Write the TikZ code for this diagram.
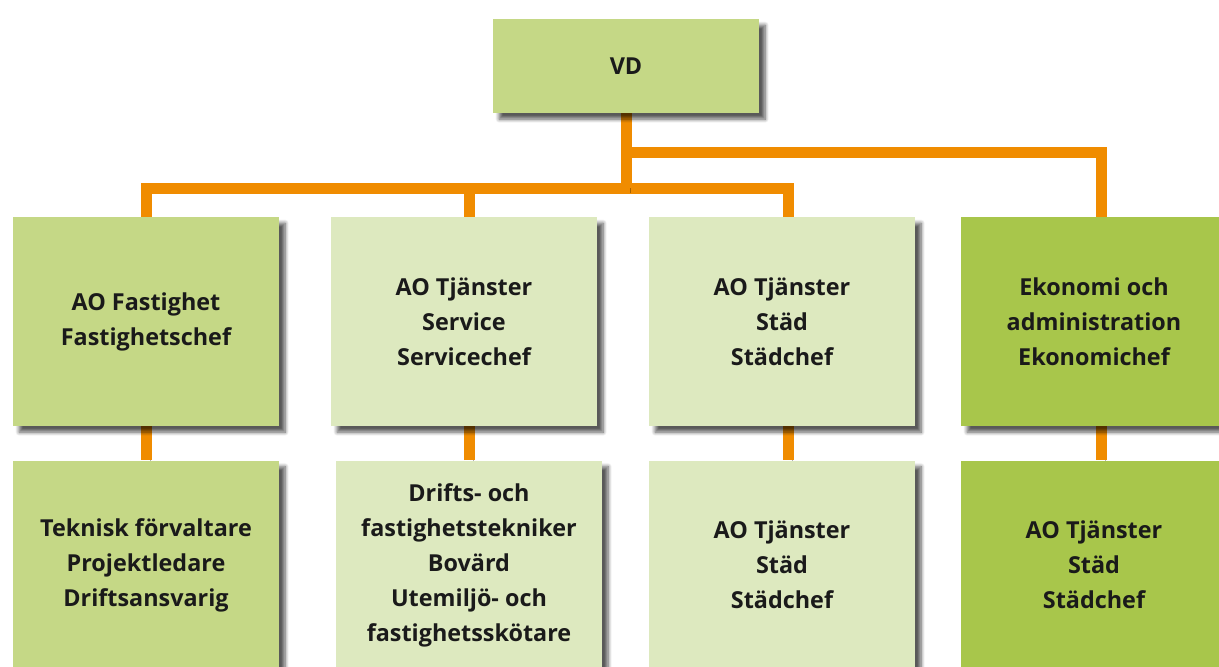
\documentclass[tikz,border=0pt]{standalone}
\usepackage{fontspec}
\setmainfont{Open Sans}
\usetikzlibrary{positioning,backgrounds,shadows.blur}
\definecolor{Gmid}{HTML}{C5D886}
\definecolor{Gpale}{HTML}{DDE9BF}
\definecolor{Gdeep}{HTML}{A8C64B}
\definecolor{Oc}{HTML}{F08C00}
\definecolor{ink}{HTML}{1A1A1A}
\tikzset{
  unit/.style={rectangle, inner sep=0pt, minimum width=5.32cm, minimum height=4.18cm,
    align=center, text=ink, font=\bfseries\fontsize{13.3}{19.9}\selectfont,
    blur shadow={shadow xshift=3.5pt, shadow yshift=-3.5pt, shadow blur steps=8, shadow opacity=65}},
  Mbox/.style={unit, fill=Gmid},
  Pbox/.style={unit, fill=Gpale},
  Dbox/.style={unit, fill=Gdeep},
  link/.style={draw=Oc, line width=0.22cm, line join=miter,
    preaction={draw=black, opacity=0.3, transform canvas={shift={(2.5pt,-3pt)}}}},
}

\begin{document}
\begin{tikzpicture}[x=0.02cm, y=-0.02cm]
  \useasboundingbox (0,0) rectangle (1219,666);
  % top
  \node[Mbox, minimum height=1.88cm] (vd) at (626,66) {VD};
  % first row
  \node[Mbox] (fast) at (146,321.5) {AO Fastighet\\Fastighetschef};
  \node[Pbox] (serv) at (464,321.5) {AO Tjänster\\Service\\Servicechef};
  \node[Pbox] (stad) at (782,321.5) {AO Tjänster\\Städ\\Städchef};
  \node[Dbox] (eko) at (1094,321.5) {Ekonomi och\\administration\\Ekonomichef};
  % second row
  \node[Mbox] (fastB) at (146,565) {Teknisk förvaltare\\Projektledare\\Driftsansvarig};
  \node[Pbox] (servB) at (469,565) {Drifts- och\\fastighetstekniker\\Bovärd\\Utemiljö- och\\fastighetsskötare};
  \node[Pbox] (stadB) at (782,565) {AO Tjänster\\Städ\\Städchef};
  \node[Dbox] (ekoB) at (1094,565) {AO Tjänster\\Städ\\Städchef};
  \coordinate (jlow) at (626,188);
  \coordinate (jhigh) at (626,152);
  \coordinate (stadT) at ([xshift=0.12cm]stad.north);
  \coordinate (ekoT) at ([xshift=0.14cm]eko.north);
  \begin{scope}[on background layer]
    \draw[link] (fast.north) |- (jlow) -| (stadT);
    \draw[link] (servB.north |- serv.north) -- (servB.north |- jlow);
    \draw[link] (vd.south) -- (jlow);
    \draw[link] (jhigh) -| (ekoT);
    \draw[link] (fast.south) -- (fastB.north);
    \draw[link] (servB.north) -- (servB.north |- serv.south);
    \draw[link] (stadT |- stad.south) -- (stadT |- stadB.north);
    \draw[link] (ekoT |- eko.south) -- (ekoT |- ekoB.north);
  \end{scope}
\end{tikzpicture}
\end{document}
